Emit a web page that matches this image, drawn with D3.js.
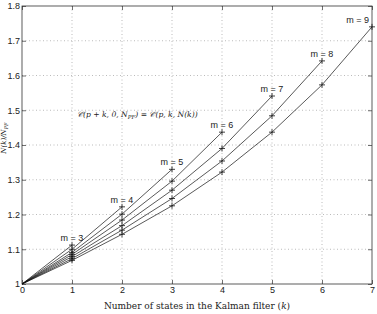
<!DOCTYPE html>
<html lang="en">
<head>
<meta charset="UTF-8">
<title>N(k)/N_PF vs states</title>
<script src="https://d3js.org/d3.v7.min.js"></script>
<style>
  body { margin: 0; background: #fff; }
  .tick text { font-family: "Liberation Sans", Arial, sans-serif; font-size: 9px; fill: #222; }
  .grid line { stroke: #bbb; stroke-dasharray: 1,2.5; }
  .serif { font-family: "DejaVu Serif", "Liberation Serif", serif; fill: #222; }
</style>
</head>
<body>
<svg width="377" height="314"></svg>
<script>
// values, one series per m (starts at k = 0)
const mValues = [3, 4, 5, 6, 7, 8, 9];
const series = [
  [1, 1.112],
  [1, 1.100, 1.222],
  [1, 1.091, 1.201, 1.330],
  [1, 1.085, 1.184, 1.296, 1.437],
  [1, 1.079, 1.168, 1.270, 1.390, 1.541],
  [1, 1.073, 1.155, 1.246, 1.354, 1.484, 1.642],
  [1, 1.068, 1.143, 1.225, 1.322, 1.437, 1.573, 1.740]
];
const xTicks = [0, 1, 2, 3, 4, 5, 6, 7];
const yTicks = [1, 1.1, 1.2, 1.3, 1.4, 1.5, 1.6, 1.7, 1.8];

const margin = {left: 22, right: 5, top: 6, bottom: 30};
const W = 377, H = 314;
const w = W - margin.left - margin.right;
const h = H - margin.top - margin.bottom;

const svg = d3.select("svg");
const g = svg.append("g").attr("transform", `translate(${margin.left},${margin.top})`);

const x = d3.scaleLinear().domain([0, 7]).range([0, w]);
const y = d3.scaleLinear().domain([1, 1.8]).range([h, 0]);

// grid
g.append("g").attr("class", "grid")
  .selectAll("line").data(xTicks.slice(1, -1)).join("line")
  .attr("x1", d => x(d)).attr("x2", d => x(d)).attr("y1", 0).attr("y2", h);
g.append("g").attr("class", "grid")
  .selectAll("line").data(yTicks.slice(1, -1)).join("line")
  .attr("x1", 0).attr("x2", w).attr("y1", d => y(d)).attr("y2", d => y(d));

// axes, ticks inward
const fmt = d => d3.format("")(d);
g.append("g").attr("transform", `translate(0,${h})`)
  .call(d3.axisBottom(x).tickValues(xTicks).tickSize(-4).tickPadding(3).tickFormat(fmt))
  .call(a => a.select(".domain").remove());
g.append("g")
  .call(d3.axisLeft(y).tickValues(yTicks).tickSize(-4).tickPadding(2).tickFormat(fmt))
  .call(a => a.select(".domain").remove());
g.append("g")
  .call(d3.axisTop(x).tickValues(xTicks).tickSize(-4).tickFormat(""))
  .call(a => a.select(".domain").remove());
g.append("g").attr("transform", `translate(${w},0)`)
  .call(d3.axisRight(y).tickValues(yTicks).tickSize(-4).tickFormat(""))
  .call(a => a.select(".domain").remove());
g.selectAll(".tick line").attr("stroke", "#333").attr("stroke-width", 0.7);

g.append("rect").attr("width", w).attr("height", h)
  .attr("fill", "none").attr("stroke", "#333").attr("stroke-width", 0.8);

// lines
const line = d3.line().x((d, i) => x(i)).y(d => y(d));
g.selectAll(".series").data(series).join("path")
  .attr("class", "series")
  .attr("d", line)
  .attr("fill", "none").attr("stroke", "#111").attr("stroke-width", 0.7);

// plus markers
const pts = series.flatMap(s => s.map((v, i) => ({k: i, v: v})).filter(p => p.k > 0));
g.selectAll(".mk").data(pts).join("path")
  .attr("class", "mk")
  .attr("d", d => `M${x(d.k) - 3},${y(d.v)}h6M${x(d.k)},${y(d.v) - 3}v6`)
  .attr("stroke", "#111").attr("stroke-width", 0.8);

// m labels
g.selectAll(".mlab").data(series).join("text")
  .attr("class", "mlab")
  .attr("x", (s, i) => mValues[i] === 9 ? x(s.length - 1) - 3 : x(s.length - 1))
  .attr("y", s => y(s[s.length - 1]) - 4)
  .attr("text-anchor", (s, i) => mValues[i] === 9 ? "end" : "middle")
  .style("font-family", "Liberation Sans, Arial, sans-serif")
  .style("font-size", "9px").attr("fill", "#222")
  .text((s, i) => "m = " + mValues[i]);

// annotation
const ann = g.append("text").attr("class", "serif")
  .attr("x", x(1.1)).attr("y", y(1.5) + 7).style("font-size", "7.6px");
ann.append("tspan").style("font-style", "italic").text("𝒞(p + k, 0, N");
ann.append("tspan").style("font-style", "italic").style("font-size", "5.5px").attr("dy", 2).text("PF");
ann.append("tspan").style("font-style", "italic").attr("dy", -2).text(") = 𝒞(p, k, N(k))");

// axis labels
svg.append("text").attr("class", "serif")
  .attr("x", margin.left + w / 2).attr("y", H - 5)
  .attr("text-anchor", "middle").style("font-size", "9px")
  .html('Number of states in the Kalman filter (<tspan font-style="italic">k</tspan>)');

const yl = svg.append("text").attr("class", "serif")
  .attr("transform", `translate(6,${margin.top + y(1.42)}) rotate(-90)`)
  .attr("text-anchor", "middle").style("font-size", "7px").style("font-style", "italic");
yl.append("tspan").text("N(k)/N");
yl.append("tspan").style("font-size", "5px").attr("dy", 2).text("PF");
</script>
</body>
</html>
